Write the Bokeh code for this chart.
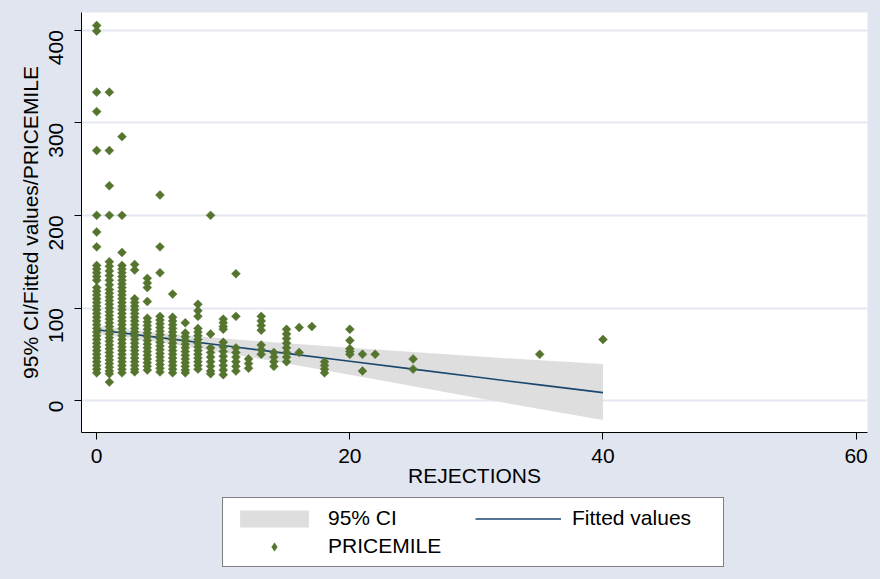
import math
from bokeh.plotting import figure
from bokeh.layouts import column
from bokeh.models import Range1d, FixedTicker, Legend, LegendItem, ColumnDataSource
from bokeh.embed import file_html
from bokeh.resources import INLINE

# ---------------- data ----------------
# PRICEMILE values for each number of REJECTIONS
pm_r0 = [405, 399, 333, 312, 270, 200, 182, 166, 146, 142, 138, 134, 130,
         122, 118, 114, 110, 106, 102, 98, 94, 90, 86, 82, 78, 74, 70, 66,
         62, 58, 54, 50, 46, 42, 38, 34, 30]
pm_r1 = [333, 270, 232, 200, 150, 145, 140, 135, 130, 125, 120, 116, 112,
         108, 104, 100, 96, 92, 88, 84, 80, 76, 72, 68, 64, 60, 56, 52, 48,
         44, 40, 36, 32, 29, 20]
pm_r2 = [285, 200, 160, 146, 142, 138, 134, 130, 126, 122, 118, 114, 110,
         106, 102, 98, 94, 90, 86, 82, 78, 74, 70, 66, 62, 58, 54, 50, 46,
         42, 38, 34, 30]
pm_r3 = [147, 141, 110, 106, 102, 98, 94, 90, 86, 82, 78, 74, 70, 66, 62,
         58, 54, 50, 46, 42, 38, 34, 31]
pm_r4 = [132, 127, 122, 107, 89, 85, 81, 77, 73, 69, 65, 61, 57, 53, 49,
         45, 41, 37, 33]
pm_r5 = [222, 166, 138, 91, 87, 83, 79, 75, 71, 67, 63, 59, 55, 51, 47, 43,
         39, 35, 31]
pm_r6 = [115, 90, 86, 82, 78, 74, 70, 66, 62, 58, 54, 50, 46, 42, 38, 34, 30]
pm_r7 = [84, 73, 69, 65, 61, 57, 53, 49, 45, 41, 37, 33, 30]
pm_r8 = [104, 97, 91, 78, 74, 70, 66, 62, 58, 54, 50, 46, 42, 38, 34]
pm_r9 = [200, 72, 57, 52, 47, 42, 37, 32, 29]
pm_r10 = [88, 84, 80, 77, 63, 58, 53, 48, 43, 38, 33, 28]
pm_r11 = [137, 91, 57, 52, 47, 42, 37, 32]
pm_r12 = [45, 40, 35]
pm_r13 = [91, 86, 81, 76, 60, 55, 50]
pm_r14 = [52, 47, 42, 37]
pm_r15 = [77, 72, 67, 62, 57, 52, 47, 42]
pm_r16 = [79, 52]
pm_r17 = [80]
pm_r18 = [42, 38, 34, 30]
pm_r20 = [77, 65, 56, 53, 50]
pm_r21 = [50, 32]
pm_r22 = [50]
pm_r25 = [45, 34]
pm_r35 = [50]
pm_r40 = [66]

rejection_levels = [0, 1, 2, 3, 4, 5, 6, 7, 8, 9, 10, 11, 12, 13, 14, 15, 16,
                    17, 18, 20, 21, 22, 25, 35, 40]
pricemile_groups = [pm_r0, pm_r1, pm_r2, pm_r3, pm_r4, pm_r5, pm_r6, pm_r7,
                    pm_r8, pm_r9, pm_r10, pm_r11, pm_r12, pm_r13, pm_r14,
                    pm_r15, pm_r16, pm_r17, pm_r18, pm_r20, pm_r21, pm_r22,
                    pm_r25, pm_r35, pm_r40]

# fitted values and 95% CI
fit_x = [0, 5, 10, 15, 20, 25, 30, 35, 40]
fit_y = [76.5, 68.0, 59.5, 51.0, 42.5, 34.0, 25.5, 17.0, 8.6]
ci_upper = [81, 73, 67, 62, 57, 52.5, 48, 43.5, 39.5]
ci_lower = [72, 63, 52, 40, 28, 15.5, 3, -9, -21]

x_ticks = [0, 20, 40, 60]
y_ticks = [0, 100, 200, 300, 400]

# ---------------- styling ----------------
BG = "#E0E5EF"
GREEN = "#55752F"
NAVY = "#1A476F"
CI_COL = "#DEDEDE"
GRID = "#E3E8F1"
FONT = "Liberation Sans"

rej = []
pm = []
for lvl, grp in zip(rejection_levels, pricemile_groups):
    for v in grp:
        rej.append(lvl)
        pm.append(v)

fit_src = ColumnDataSource(dict(x=fit_x, y=fit_y, lo=ci_lower, hi=ci_upper))
pts_src = ColumnDataSource(dict(x=rej, y=pm))

# ---------------- main plot ----------------
p = figure(width=880, height=492,
           x_range=Range1d(-1.2, 60.9), y_range=Range1d(-34.4, 419),
           output_backend="svg", toolbar_location=None,
           background_fill_color="white", border_fill_color=BG,
           outline_line_color=None,
           min_border_left=81, min_border_right=13,
           min_border_top=12, min_border_bottom=60)

p.varea(x="x", y1="lo", y2="hi", source=fit_src, fill_color=CI_COL, fill_alpha=1.0)
p.line(x="x", y="y", source=fit_src, line_color=NAVY, line_width=1.6)
p.scatter(x="x", y="y", source=pts_src, marker="square", angle=math.pi / 4,
          size=6.3, fill_color=GREEN, line_color=GREEN, line_width=0.5)

p.xgrid.visible = False
p.ygrid.grid_line_color = GRID
p.ygrid.grid_line_width = 2
p.ygrid.ticker = FixedTicker(ticks=y_ticks)

for ax in (p.xaxis[0], p.yaxis[0]):
    ax.axis_line_color = "black"
    ax.axis_line_width = 1
    ax.major_tick_line_color = "black"
    ax.major_tick_out = 7
    ax.major_tick_in = 0
    ax.minor_tick_line_color = None
    ax.major_label_text_font = FONT
    ax.major_label_text_font_size = "21px"
    ax.major_label_text_color = "black"
    ax.axis_label_text_font = FONT
    ax.axis_label_text_font_size = "21px"
    ax.axis_label_text_font_style = "normal"
    ax.axis_label_text_color = "black"

p.xaxis.ticker = FixedTicker(ticks=x_ticks)
p.yaxis.ticker = FixedTicker(ticks=y_ticks)
p.xaxis.axis_label = "REJECTIONS"
p.yaxis.axis_label = "95% CI/Fitted values/PRICEMILE"
p.yaxis.major_label_orientation = math.pi / 2
p.xaxis.major_label_standoff = 9
p.xaxis.axis_label_standoff = -2
p.yaxis.major_label_standoff = 18
p.yaxis.axis_label_standoff = -2

# ---------------- legend strip (keys reuse the data, drawn out of view) ----
lg = figure(width=880, height=87,
            x_range=Range1d(1000, 1001), y_range=Range1d(1000, 1001),
            output_backend="svg", toolbar_location=None,
            x_axis_location=None, y_axis_location=None,
            background_fill_color=BG, border_fill_color=BG,
            outline_line_color=None,
            min_border_left=81, min_border_right=13,
            min_border_top=0, min_border_bottom=0)
lg.xgrid.visible = False
lg.ygrid.visible = False
ci_key = lg.varea(x="x", y1="lo", y2="hi", source=fit_src,
                  fill_color=CI_COL, fill_alpha=1.0)
ln_key = lg.line(x="x", y="y", source=fit_src, line_color=NAVY, line_width=1.6)
sc_key = lg.scatter(x="x", y="y", source=pts_src, marker="diamond", size=11,
                    fill_color=GREEN, line_color=GREEN, line_width=0.5)

legend = Legend(items=[LegendItem(label="95% CI", renderers=[ci_key]),
                       LegendItem(label="Fitted values", renderers=[ln_key]),
                       LegendItem(label="PRICEMILE", renderers=[sc_key])],
                orientation="horizontal", ncols=2, location=(141, 12),
                label_text_font=FONT, label_text_font_size="21px",
                label_text_color="black",
                glyph_width=86, glyph_height=21, label_standoff=11,
                label_width=143, spacing=4, padding=8, margin=0,
                border_line_color="black", border_line_width=1,
                background_fill_color="white", background_fill_alpha=1.0)
lg.add_layout(legend, "center")

layout = column(p, lg, spacing=0)

html = file_html(layout, INLINE, title="PRICEMILE vs REJECTIONS")
html = html.replace("</head>", "<style>html, body {background-color: %s;}</style></head>" % BG, 1)
open("out.html", "w").write(html)
